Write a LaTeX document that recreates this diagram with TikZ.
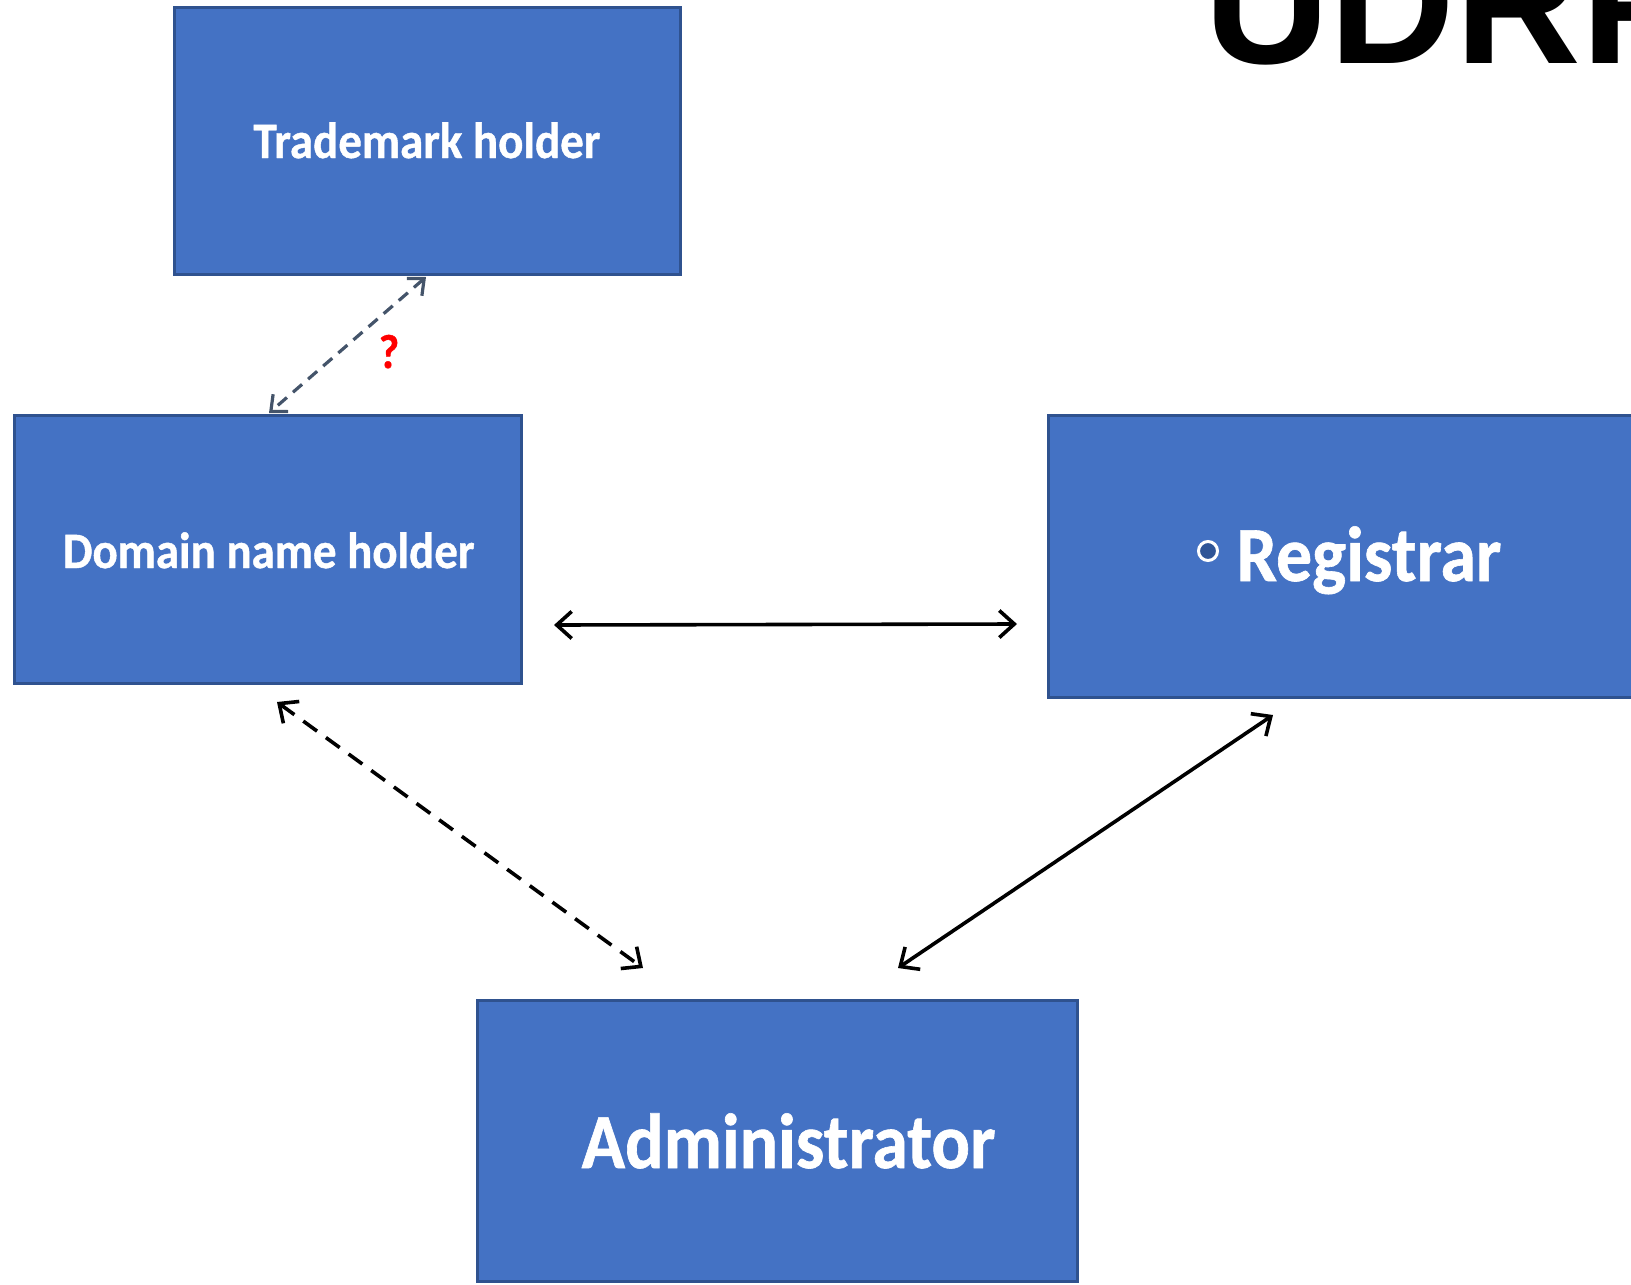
\documentclass[tikz,border=0pt]{standalone}
\usepackage{fontspec}
\newfontfamily\calfont{Carlito}[FakeStretch=0.92, BoldFeatures={FakeBold=0.8}]
\newfontfamily\titlefont{Liberation Sans}
\usetikzlibrary{arrows.meta,calc}
\definecolor{boxfill}{HTML}{4472C4}
\definecolor{boxline}{HTML}{2F528F}
\definecolor{slate}{HTML}{44546A}
\definecolor{bulletfill}{HTML}{2F5597}
\tikzset{
  box/.style={rectangle, fill=boxfill, draw=boxline, line width=3pt, inner sep=0pt},
  lbl/.style={text=white, font=\calfont\bfseries, inner sep=0pt, anchor=base},
  conn/.style={line width=3.6pt, line cap=round, {Straight Barb[length=15pt,width=27pt]}-{Straight Barb[length=15pt,width=27pt]}},
  dashconn/.style={conn, line cap=butt, dash pattern=on 17pt off 11pt},
  qconn/.style={line width=3.2pt, draw=slate, dash pattern=on 12pt off 8pt, {Straight Barb[length=13pt,width=23pt]}-{Straight Barb[length=13pt,width=23pt]}}
}
\begin{document}
\begin{tikzpicture}[x=1pt,y=-1pt]
\useasboundingbox (0,0) rectangle (1631,1285);
% boxes
\node[box, minimum width=506pt, minimum height=267pt] (tm) at (427.5,141) {};
\node[box, minimum width=507.5pt, minimum height=267.5pt] (dom) at (267.75,549.25) {};
\node[box, minimum width=620pt, minimum height=282pt] (reg) at (1358.5,556.5) {};
\node[box, minimum width=600pt, minimum height=281pt] (adm) at (777.5,1141) {};
% labels
\node[lbl] (tmt) at (427,158) {\fontsize{51}{56}\selectfont Trademark holder};
\node[lbl] (domt) at (268.75,568) {\fontsize{51}{56}\selectfont Domain name holder};
\node[lbl] (regt) at (1369,581) {\fontsize{78}{88}\selectfont Registrar};
\node[lbl] (admt) at (788.5,1168) {\fontsize{78}{88}\selectfont Administrator};
\node[circle, draw=white, fill=bulletfill, line width=3pt, minimum size=19pt, inner sep=0pt] (bul) at (1208,551) {};
% title
\node[anchor=base west, inner sep=0pt, font=\titlefont\bfseries\fontsize{174}{180}\selectfont] (title) at (1204,63) {UDRP};
% question mark
\node[text=red, font=\calfont\bfseries\fontsize{48}{52}\selectfont, inner sep=0pt, anchor=base] (q) at (389,368) {?};
% connector end points
\coordinate (a1s) at ($(tm.south)+(-1.5,1)$);
\coordinate (a1e) at ($(dom.north)+(1.25,-1)$);
\coordinate (a2s) at ($(dom.east)+(31,75.75)$);
\coordinate (a2e) at ($(reg.west)+(-30,67.5)$);
\coordinate (a3s) at ($(dom.south)+(9.25,17.5)$);
\coordinate (a3e) at ($(adm.north west)+(167,-31)$);
\coordinate (a4s) at ($(reg.south west)+(226,16)$);
\coordinate (a4e) at ($(adm.north west)+(422,-31)$);
% connectors
\draw[qconn] (a1s) -- (a1e);
\draw[conn] (a2s) -- (a2e);
\draw[dashconn] (a3s) -- (a3e);
\draw[conn] (a4s) -- (a4e);
\end{tikzpicture}
\end{document}
